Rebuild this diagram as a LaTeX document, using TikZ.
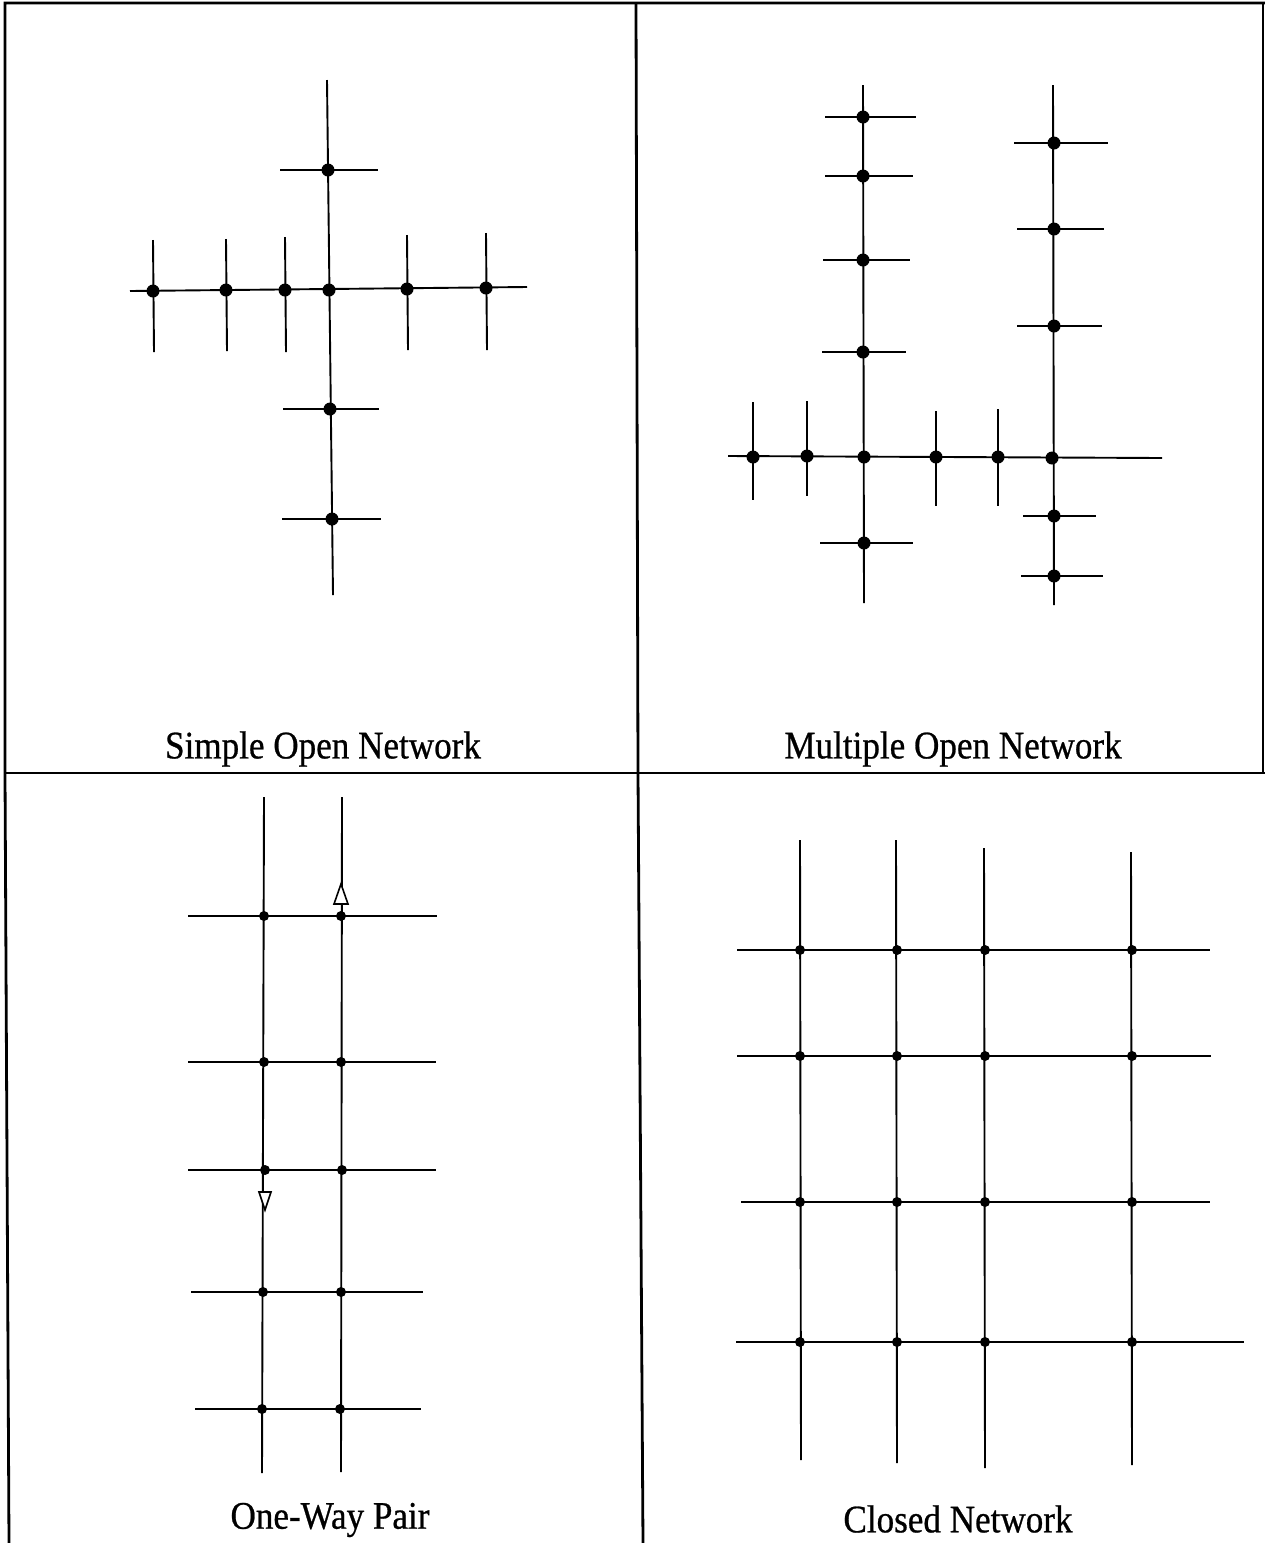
\documentclass[tikz,border=0pt]{standalone}
\usepackage{fontspec}
\setmainfont{Liberation Serif}
\newfontfamily\lblfont[FakeBold=0.7]{Liberation Serif}
\begin{document}
\begin{tikzpicture}[x=1pt,y=-1pt,
  frame/.style={line width=2.8pt,black},
  road/.style={line width=1.9pt,black},
  bigdot/.style={circle,fill=black,inner sep=0pt,minimum size=13pt},
  smalldot/.style={circle,fill=black,inner sep=0pt,minimum size=10pt},
  lbl/.style={font=\lblfont\fontsize{39}{39}\selectfont,xscale=0.9,inner sep=0pt},
  oneway/.style={line width=1.6pt,fill=white,line join=miter}]
\useasboundingbox (0,0) rectangle (1265,1543);
% frame
\coordinate (TL) at (5,3); \coordinate (TR) at (1265,3);
\coordinate (ML) at (5,773); \coordinate (MR) at (1265,773);
\coordinate (BL) at (9,1543);
\coordinate (VT) at (636,3); \coordinate (VM) at (638,773); \coordinate (VB) at (643,1543);
\coordinate (RT) at (1263,3); \coordinate (RM) at (1263,773);
\draw[frame] (TR) -- (TL) -- (ML) -- (BL);
\draw[frame] (ML) -- (MR);
\draw[frame] (VT) -- (VM) -- (VB);
\draw[line width=1.6pt] (RT) -- (RM);

% ===== Panel 1: Simple Open Network
\coordinate (a-top) at (327,80); \coordinate (a-bot) at (333,595);
\coordinate (a-left) at (130,291); \coordinate (a-right) at (527,287);
\draw[road] (a-top) -- (a-bot);
\draw[road] (a-left) -- (a-right);
\foreach \n/\x/\y/\l/\r in {v1/328/170/280/378, v3/330/409/283/379, v4/332/519/282/381}{
  \node[bigdot] (\n) at (\x,\y) {};
  \coordinate (\n-l) at (\l,\y); \coordinate (\n-r) at (\r,\y);
  \draw[road] (\n-l) -- (\n-r);
}
\node[bigdot] (v2) at (329,290) {};
\foreach \n/\x/\y/\t/\b in {h1/153/291/240/352, h2/226/290/239/351, h3/285/290/237/352, h4/407/289/235/350, h5/486/288/233/350}{
  \node[bigdot] (\n) at (\x,\y) {};
  \coordinate (\n-t) at (\x,\t); \coordinate (\n-b) at (\x+1,\b);
  \draw[road] (\n-t) -- (\n-b);
}
\node[lbl] (lab1) at (323,749) {Simple Open Network};

% ===== Panel 2: Multiple Open Network
\coordinate (b1-top) at (863,85); \coordinate (b1-bot) at (864,603);
\coordinate (b2-top) at (1053,85); \coordinate (b2-bot) at (1054,605);
\coordinate (b-left) at (728,456); \coordinate (b-right) at (1162,458);
\draw[road] (b1-top) -- (b1-bot);
\draw[road] (b2-top) -- (b2-bot);
\draw[road] (b-left) -- (b-right);
\foreach \n/\x/\y/\l/\r in {p1/863/117/825/916, p2/863/176/825/913, p3/863/260/823/910, p4/863/352/822/906, p6/864/543/820/913,
  q1/1054/143/1014/1108, q2/1054/229/1017/1104, q3/1054/326/1017/1102, q5/1054/516/1023/1096, q6/1054/576/1021/1103}{
  \node[bigdot] (\n) at (\x,\y) {};
  \coordinate (\n-l) at (\l,\y); \coordinate (\n-r) at (\r,\y);
  \draw[road] (\n-l) -- (\n-r);
}
\node[bigdot] (p5) at (864,457) {};
\node[bigdot] (q4) at (1052,458) {};
\foreach \n/\x/\y/\t/\b in {g1/753/457/402/500, g2/807/456/401/496, g3/936/457/411/506, g4/998/457/409/506}{
  \node[bigdot] (\n) at (\x,\y) {};
  \coordinate (\n-t) at (\x,\t); \coordinate (\n-b) at (\x,\b);
  \draw[road] (\n-t) -- (\n-b);
}
\node[lbl] (lab2) at (953,749) {Multiple Open Network};

% ===== Panel 3: One-Way Pair
\coordinate (cA-top) at (264,797); \coordinate (cA-bot) at (262,1473);
\coordinate (cB-top) at (342,797); \coordinate (cB-bot) at (341,1472);
\draw[road] (cA-top) -- (cA-bot);
\draw[road] (cB-top) -- (cB-bot);
\foreach \i/\y/\l/\r in {1/916/188/437, 2/1062/188/436, 3/1170/188/436, 4/1292/191/423, 5/1409/195/421}{
  \coordinate (c\i-l) at (\l,\y); \coordinate (c\i-r) at (\r,\y);
  \draw[road] (c\i-l) -- (c\i-r);
}
\foreach \i/\y/\xa/\xb in {1/916/264/341, 2/1062/264/341, 3/1170/265/342, 4/1292/263/341, 5/1409/262/340}{
  \node[smalldot] (cA\i) at (\xa,\y) {};
  \node[smalldot] (cB\i) at (\xb,\y) {};
}
\draw[oneway] (334,904) -- (341,884) -- (348,904) -- cycle;
\draw[oneway] (259,1192) -- (271,1192) -- (265,1210) -- cycle;
\node[lbl] (lab3) at (330,1520) {One-Way Pair};

% ===== Panel 4: Closed Network
\foreach \i/\x/\t/\b in {1/800/840/1460, 2/896/840/1463, 3/984/848/1468, 4/1131/852/1465}{
  \coordinate (dv\i-t) at (\x,\t); \coordinate (dv\i-b) at (\x+1,\b);
  \draw[road] (dv\i-t) -- (dv\i-b);
}
\foreach \j/\y/\l/\r in {1/950/737/1210, 2/1056/737/1211, 3/1202/741/1210, 4/1342/736/1244}{
  \coordinate (dh\j-l) at (\l,\y); \coordinate (dh\j-r) at (\r,\y);
  \draw[road] (dh\j-l) -- (dh\j-r);
}
\foreach \j/\y in {1/950, 2/1056, 3/1202, 4/1342}{
  \foreach \i/\x in {1/800, 2/897, 3/985, 4/1132}{
    \node[smalldot] (d\i\j) at (\x,\y) {};
  }
}
\node[lbl] (lab4) at (958,1519) {Closed Network};
\end{tikzpicture}
\end{document}
